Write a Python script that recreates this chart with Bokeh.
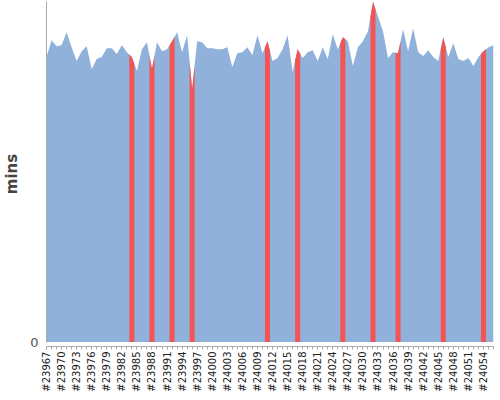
import math
from bokeh.plotting import figure
from bokeh.models import FixedTicker, Range1d
from bokeh.embed import file_html
from bokeh.resources import INLINE

# Build numbers (categories)
builds = [f"#{n}" for n in range(23967, 24057)]

# Build duration in minutes
durations = [
    28.7, 30.4, 29.8, 29.9, 31.2, 29.7, 28.3, 29.3, 29.8, 27.5,
    28.5, 28.7, 29.6, 29.6, 29.0, 29.9, 29.2, 28.7, 27.3, 29.5,
    30.2, 27.5, 30.2, 29.3, 29.5, 30.3, 31.2, 29.2, 30.9, 25.5,
    30.3, 30.2, 29.6, 29.6, 29.5, 29.5, 29.7, 27.7, 29.1, 29.2,
    29.7, 28.9, 30.9, 29.1, 30.3, 28.3, 28.6, 29.5, 30.9, 27.2,
    29.5, 28.6, 29.2, 29.4, 28.3, 29.7, 28.5, 31.0, 29.5, 30.7,
    30.3, 27.8, 29.7, 30.3, 31.3, 34.25, 32.8, 31.3, 28.6, 29.2,
    29.1, 31.5, 29.3, 31.6, 29.2, 28.8, 29.4, 28.7, 28.3, 30.7,
    28.7, 30.1, 28.5, 28.3, 28.6, 27.8, 28.7, 29.3, 29.7, 29.9,
]

# Builds that failed (highlighted in red), as indices into builds
failed = [17, 21, 25, 29, 44, 50, 59, 65, 70, 79, 87]

tick_every = 3

BLUE = "#8fb1da"
RED = "#f45454"

n = len(builds)
xs = list(range(n))

p = figure(frame_width=447, frame_height=345, output_backend="svg", toolbar_location=None,
           x_range=Range1d(0, n - 1), y_range=Range1d(-0.45, max(durations) + 0.05),
           min_border_left=35, min_border_right=2, min_border_top=1, min_border_bottom=40)
p.outline_line_color = None
p.xgrid.visible = False
p.ygrid.visible = False
p.background_fill_color = "white"

p.varea(x=xs, y1=[0] * n, y2=durations, fill_color=BLUE)

for i in failed:
    left = (durations[i - 1] + durations[i]) / 2 if i > 0 else durations[i]
    right = (durations[i] + durations[i + 1]) / 2 if i < n - 1 else durations[i]
    p.varea(x=[i - 0.5, i, i + 0.5], y1=[0, 0, 0], y2=[left, durations[i], right],
            fill_color=RED)

# x axis
xa = p.xaxis[0]
major = list(range(0, n, tick_every))
xa.ticker = FixedTicker(ticks=major, minor_ticks=xs)
xa.major_label_overrides = {i: builds[i] for i in major}
xa.major_label_orientation = math.pi / 2
xa.major_label_text_font = "DejaVu Sans"
xa.major_label_text_font_size = "10px"
xa.major_label_text_color = "#222222"
xa.major_label_standoff = 2
xa.axis_line_color = "#aaaaaa"
xa.major_tick_line_color = "#aaaaaa"
xa.minor_tick_line_color = "#aaaaaa"
xa.major_tick_out = 3
xa.major_tick_in = 0
xa.minor_tick_out = 3
xa.minor_tick_in = 0

# y axis
ya = p.yaxis[0]
ya.ticker = FixedTicker(ticks=[0], minor_ticks=[])
ya.bounds = (0, max(durations) + 0.05)
ya.axis_line_color = "#aaaaaa"
ya.major_tick_out = 0
ya.major_tick_in = 0
ya.major_label_text_font = "DejaVu Sans"
ya.major_label_text_font_size = "13px"
ya.major_label_text_color = "#555555"
ya.major_label_standoff = 8
ya.axis_label = "mins"
ya.axis_label_text_font = "DejaVu Sans"
ya.axis_label_text_font_style = "bold"
ya.axis_label_text_font_size = "15px"
ya.axis_label_text_color = "#444444"
ya.axis_label_standoff = 6

open("out.html", "w").write(file_html(p, INLINE))
